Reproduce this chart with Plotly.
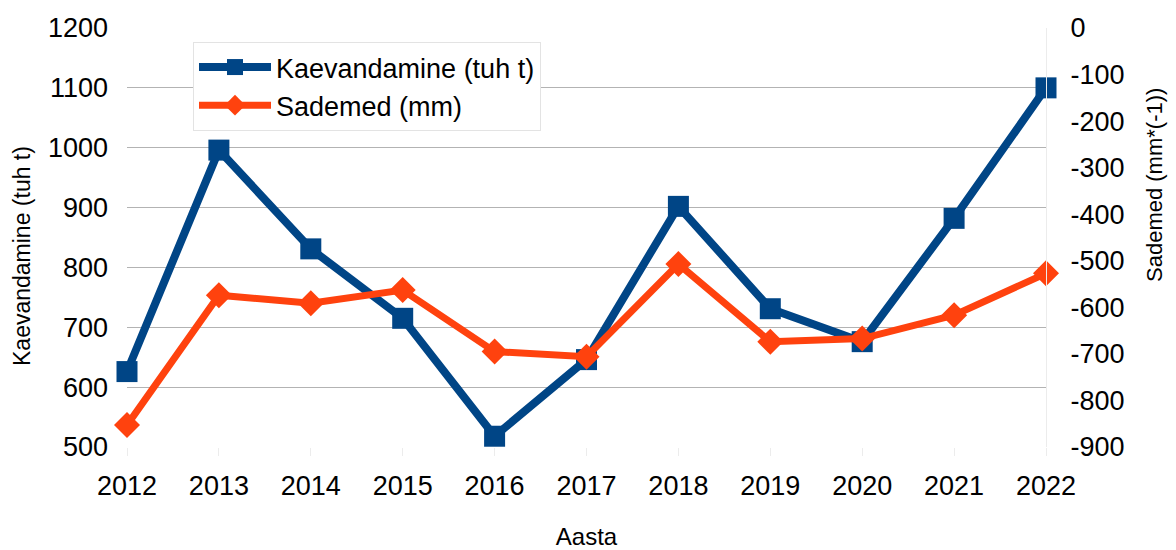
import plotly.graph_objects as go

years = [2012, 2013, 2014, 2015, 2016, 2017, 2018, 2019, 2020, 2021, 2022]
kaevandamine = [626, 996, 831, 715, 518, 646, 902, 731, 676, 882, 1100]
sademed = [-853, -574, -591, -563, -695, -706, -507, -674, -667, -617, -527]

left_ticks = [500, 600, 700, 800, 900, 1000, 1100, 1200]
right_ticks = [0, -100, -200, -300, -400, -500, -600, -700, -800, -900]
right_tick_text = ["0", "-100", "-200", "-300", "-400", "-500", "-600", "-700", "-800", "-900"]

BLUE = "#004586"
ORANGE = "#ff420e"
FONT = "Liberation Sans, Arial, sans-serif"

# page body has an 8px default margin, so the figure is sized/positioned to compensate
fig = go.Figure()
fig.add_trace(go.Scatter(
    x=years, y=kaevandamine, name="Kaevandamine (tuh t)", mode="lines+markers",
    line=dict(color=BLUE, width=8), marker=dict(symbol="square", size=21, color=BLUE),
    cliponaxis=False, yaxis="y"))
fig.add_trace(go.Scatter(
    x=years, y=sademed, name="Sademed (mm)", mode="lines+markers",
    line=dict(color=ORANGE, width=7), marker=dict(symbol="diamond", size=20, color=ORANGE),
    cliponaxis=False, yaxis="y2"))

fig.update_layout(
    width=1168, height=542,
    margin=dict(l=119, r=130, t=20, b=103, autoexpand=False),
    paper_bgcolor="white", plot_bgcolor="white",
    font=dict(family=FONT, color="black", size=27),
    showlegend=True,
    legend=dict(
        x=(193 - 127) / 919, y=(447 - 42) / 419, xanchor="left", yanchor="top",
        bgcolor="white", bordercolor="#e3e3e3", borderwidth=1,
        font=dict(size=27, family=FONT), itemwidth=72, tracegroupgap=0,
    ),
    xaxis=dict(
        range=[2012, 2022], tickmode="array", tickvals=years,
        ticktext=[str(y) for y in years],
        showgrid=False, zeroline=False, showline=False,
        ticks="outside", ticklen=8, tickcolor="#ececec",
        ticklabelstandoff=7, automargin=False,
        tickfont=dict(size=27),
        title=dict(text="Aasta", font=dict(size=24), standoff=31),
    ),
    yaxis=dict(
        range=[500, 1200], tickmode="array", tickvals=left_ticks,
        showgrid=True, gridcolor="#b3b3b3", gridwidth=1, zeroline=False, showline=False,
        ticklabelstandoff=18, tickfont=dict(size=27), automargin=False,
    ),
    yaxis2=dict(
        range=[-900, 0], tickmode="array", tickvals=right_ticks, ticktext=right_tick_text,
        overlaying="y", side="right",
        showgrid=False, zeroline=False, showline=True, linecolor="#ececec",
        ticklabelstandoff=18, tickfont=dict(size=27), automargin=False,
    ),
    annotations=[
        dict(text="Kaevandamine (tuh t)", textangle=-90, showarrow=False,
             xref="paper", yref="paper", x=(14 - 119) / 919, y=1 - (248 - 20) / 419,
             xanchor="center", yanchor="middle", font=dict(size=23, family=FONT, color="black")),
        dict(text="Sademed (mm*(-1))", textangle=-90, showarrow=False,
             xref="paper", yref="paper", x=(1146 - 119) / 919, y=1 - (177 - 20) / 419,
             xanchor="center", yanchor="middle", font=dict(size=22, family=FONT, color="black")),
    ],
)

fig.write_html("out.html")
